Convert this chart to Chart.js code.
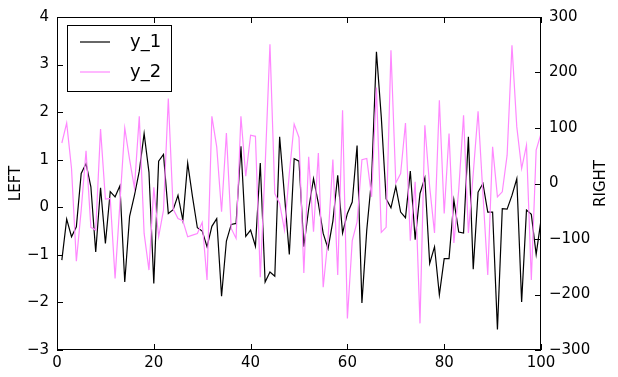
<!DOCTYPE html>
<html>
<head>
<meta charset="utf-8">
<script src="https://cdn.jsdelivr.net/npm/chart.js@4/dist/chart.umd.min.js"></script>
<style>
  html, body { margin: 0; padding: 0; background: #fff; }
</style>
</head>
<body>
<canvas id="myChart" width="618" height="377"></canvas>
<script>
// y_1 on the left axis, y_2 on the right axis
const y1 = [-1.11, -0.25, -0.62, -0.41, 0.71, 0.92, 0.43, -0.94, 0.41, -0.76,
  0.33, 0.22, 0.45, -1.57, -0.19, 0.25, 0.76, 1.55, 0.74, -1.60,
  0.97, 1.11, -0.13, -0.05, 0.25, -0.27, 0.93, 0.22, -0.43, -0.50,
  -0.83, -0.40, -0.24, -1.87, -0.71, -0.36, -0.34, 1.28, -0.61, -0.48,
  -0.82, 0.93, -1.57, -1.36, -1.45, 1.48, 0.25, -0.99, 1.02, 0.97,
  -0.83, -0.03, 0.60, 0.08, -0.55, -0.87, -0.29, 0.67, -0.54, -0.13,
  0.11, 1.30, -2.01, -0.48, 0.60, 3.27, 1.90, 0.18, -0.01, 0.44,
  -0.10, -0.22, 0.76, -0.68, 0.29, 0.62, -1.18, -0.83, -1.84, -1.08,
  -1.08, 0.15, -0.52, -0.54, 1.48, -1.30, 0.32, 0.50, -0.10, -0.10,
  -2.57, -0.03, -0.04, 0.25, 0.60, -1.99, -0.06, -0.15, -0.99, -0.27];

const y2 = [73, 109, 27, -140, -48, 59, -79, -84, 98, -28,
  -27, -171, -35, 100, 43, -8, 121, -90, -156, -7,
  -96, -48, 153, -46, -63, -67, -96, -93, -90, -70,
  -174, 121, 66, -51, 91, -81, -99, 121, 13, 87,
  85, -169, 30, 251, -18, -36, -84, 18, 107, 83,
  -161, 48, -87, 55, -187, -99, 43, -165, 132, -243,
  -103, -69, 43, 45, -24, 173, -88, -79, 240, 1,
  18, 109, -103, 3, -252, 105, -6, -89, 150, -54,
  90, -107, -12, 123, -89, 18, 130, -18, -165, 66,
  -24, -15, 51, 249, 102, 27, 69, -174, 60, 90];

const xs = y1.map((v, i) => i + 1);
const seriesNames = ['y_1', 'y_2'];
const xTicks = [0, 20, 40, 60, 80, 100];

const FONT = 'DejaVu Sans';
const minus = v => String(v).replace('-', '\u2212');

// frame, inward ticks, axis titles and the legend box
const decor = {
  id: 'decor',
  afterDatasetsDraw(chart) {
    const ctx = chart.ctx;
    const a = chart.chartArea;
    const s = chart.scales;
    ctx.save();
    ctx.strokeStyle = '#000';
    ctx.lineWidth = 1;
    ctx.strokeRect(a.left + 0.5, a.top + 0.5, a.right - a.left - 1, a.bottom - a.top - 1);

    ctx.beginPath();
    s.x.ticks.forEach(t => {
      const px = Math.round(s.x.getPixelForValue(t.value)) + 0.5;
      ctx.moveTo(px, a.bottom); ctx.lineTo(px, a.bottom - 6);
      ctx.moveTo(px, a.top); ctx.lineTo(px, a.top + 6);
    });
    s.yL.ticks.forEach(t => {
      const py = Math.round(s.yL.getPixelForValue(t.value)) + 0.5;
      ctx.moveTo(a.left, py); ctx.lineTo(a.left + 6, py);
    });
    s.yR.ticks.forEach(t => {
      const py = Math.round(s.yR.getPixelForValue(t.value)) + 0.5;
      ctx.moveTo(a.right, py); ctx.lineTo(a.right - 6, py);
    });
    ctx.stroke();

    // axis titles
    ctx.fillStyle = '#000';
    ctx.font = '15px "' + FONT + '"';
    ctx.textAlign = 'center';
    ctx.textBaseline = 'middle';
    const midY = (a.top + a.bottom) / 2;
    ctx.save(); ctx.translate(16, midY); ctx.rotate(-Math.PI / 2); ctx.fillText('LEFT', 0, 0); ctx.restore();
    ctx.save(); ctx.translate(601, midY); ctx.rotate(-Math.PI / 2); ctx.fillText('RIGHT', 0, 0); ctx.restore();

    // legend
    const lx = a.left + 10, ly = a.top + 8;
    ctx.fillStyle = '#fff';
    ctx.fillRect(lx, ly, 104, 66);
    ctx.strokeRect(lx + 0.5, ly + 0.5, 104, 66);
    chart.data.datasets.forEach((d, i) => {
      const yy = ly + 17 + i * 30;
      ctx.strokeStyle = d.borderColor;
      ctx.lineWidth = 1.2;
      ctx.beginPath(); ctx.moveTo(lx + 13, yy); ctx.lineTo(lx + 43, yy); ctx.stroke();
      ctx.fillStyle = '#000';
      ctx.font = '18px "' + FONT + '"';
      ctx.textAlign = 'left';
      ctx.fillText(d.label, lx + 63, yy);
    });
    ctx.restore();
  }
};

new Chart('myChart', {
  type: 'line',
  data: {
    labels: xs,
    datasets: [{
      label: seriesNames[0],
      data: y1,
      yAxisID: 'yL',
      borderColor: '#000000',
      borderWidth: 1.2,
      pointRadius: 0,
      tension: 0,
      order: 1
    }, {
      label: seriesNames[1],
      data: y2,
      yAxisID: 'yR',
      borderColor: '#ff88ff',
      borderWidth: 1.2,
      pointRadius: 0,
      tension: 0,
      order: 0
    }]
  },
  options: {
    responsive: false,
    animation: false,
    devicePixelRatio: 1,
    layout: { padding: { top: 17, left: 0, right: 0, bottom: 0 } },
    plugins: { legend: { display: false }, tooltip: { enabled: false } },
    scales: {
      x: {
        type: 'linear',
        min: 0, max: 100,
        afterBuildTicks: sc => { sc.ticks = xTicks.map(v => ({ value: v })); },
        afterFit: sc => { sc.height = 27; },
        grid: { display: false, drawTicks: false },
        border: { display: false },
        ticks: { color: '#000', font: { family: FONT, size: 15 }, padding: 4, maxRotation: 0, autoSkip: false }
      },
      yL: {
        position: 'left',
        min: -3, max: 4,
        afterFit: sc => { sc.width = 57; },
        grid: { display: false, drawTicks: false },
        border: { display: false },
        ticks: { stepSize: 1, color: '#000', font: { family: FONT, size: 15 }, padding: 8, callback: minus }
      },
      yR: {
        position: 'right',
        min: -300, max: 300,
        afterFit: sc => { sc.width = 77; },
        grid: { display: false, drawTicks: false },
        border: { display: false },
        ticks: { stepSize: 100, color: '#000', font: { family: FONT, size: 15 }, padding: 8, callback: minus }
      }
    }
  },
  plugins: [decor]
});
</script>
</body>
</html>
